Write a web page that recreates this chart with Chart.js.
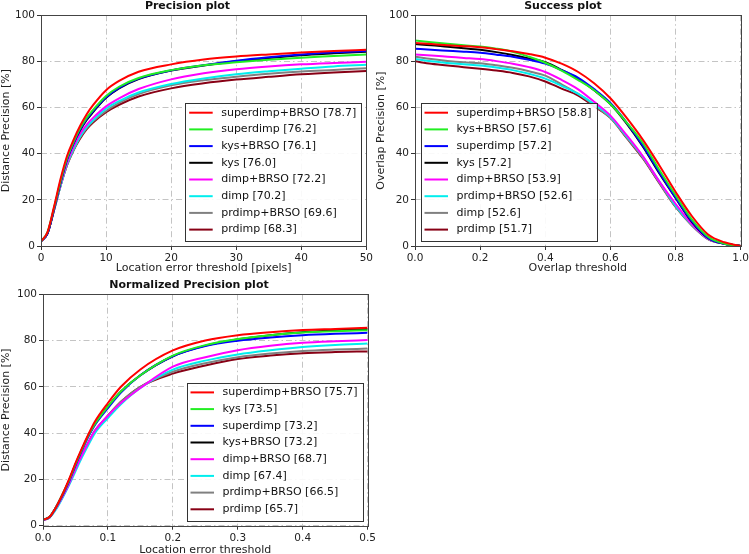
<!DOCTYPE html>
<html>
<head>
<meta charset="utf-8">
<script src="https://cdn.jsdelivr.net/npm/chart.js@4.4.0/dist/chart.umd.min.js"></script>
<style>
  html, body { margin: 0; padding: 0; background: #fff; overflow: hidden; }
  #wrap { position: relative; width: 749px; height: 554px; overflow: hidden; }
  canvas { position: absolute; }
</style>
</head>
<body>
<div id="wrap">
  <canvas id="precChart" width="375" height="277" style="left:0;top:0"></canvas>
  <canvas id="succChart" width="376" height="277" style="left:375px;top:0"></canvas>
  <canvas id="normChart" width="378" height="280" style="left:0;top:277px"></canvas>
</div>
<script>
// line colours, by rank in each legend
var lineColors = ["#ff0000", "#22ee22", "#0000ff", "#000000", "#ff00ff", "#00eeee", "#808080", "#880015"];

// Precision plot
var precThresholds = [0, 1, 2, 3, 4, 5, 6, 7, 8, 10, 12, 15, 20, 25, 30, 35, 40, 45, 50];
var precLabels = ["superdimp+BRSO [78.7]", "superdimp [76.2]", "kys+BRSO [76.1]", "kys [76.0]",
                  "dimp+BRSO [72.2]", "dimp [70.2]", "prdimp+BRSO [69.6]", "prdimp [68.3]"];
var precValues = [
  [2, 6, 17, 29, 39, 46, 52, 57, 61, 67.5, 71.5, 75.5, 78.7, 80.8, 82.1, 83, 83.8, 84.5, 85],
  [2, 6, 16.5, 28, 38, 45, 51, 55.5, 59, 65, 69, 72.8, 76.2, 78.3, 79.6, 80.7, 81.6, 82.3, 83],
  [2, 5.5, 16, 27.5, 37.5, 44.5, 50.5, 55, 58.5, 64.5, 68.5, 72.5, 76.1, 78.3, 80.3, 81.8, 83, 83.9, 84.5],
  [2, 5.5, 16, 27.5, 37.5, 44.5, 50, 54.5, 58, 64.2, 68.3, 72.3, 76.0, 78.2, 80, 81.5, 82.7, 83.5, 84.2],
  [2, 5.5, 15.5, 26.5, 36, 43, 48.5, 52.5, 55.5, 60.5, 64, 68, 72.2, 74.8, 76.6, 77.8, 78.7, 79.3, 79.8],
  [2, 5.5, 15.5, 26, 35.5, 42, 47.5, 51.5, 54.5, 59.5, 62.8, 66.5, 70.2, 72.6, 74.4, 75.7, 76.8, 77.8, 78.5],
  [2, 5.5, 15.5, 26, 35, 41.5, 47, 51, 54, 58.5, 62, 65.8, 69.6, 71.8, 73.3, 74.6, 75.6, 76.3, 77],
  [2, 5.5, 15.5, 26, 35, 41.5, 46.5, 50.5, 53.5, 58, 61.2, 64.8, 68.3, 70.5, 72.1, 73.3, 74.4, 75.2, 75.8]
];

// Success plot
var succThresholds = [0, 0.05, 0.1, 0.15, 0.2, 0.25, 0.3, 0.35, 0.4, 0.45, 0.5, 0.55, 0.6, 0.65, 0.7, 0.75, 0.8, 0.85, 0.9, 0.95, 1.0];
var succLabels = ["superdimp+BRSO [58.8]", "kys+BRSO [57.6]", "superdimp [57.2]", "kys [57.2]",
                  "dimp+BRSO [53.9]", "prdimp+BRSO [52.6]", "dimp [52.6]", "prdimp [51.7]"];
var succValues = [
  [88, 87.5, 87, 86.6, 86.1, 85.3, 84.4, 83.2, 81.6, 79, 75.5, 70.5, 64, 55.5, 46, 35, 23.5, 13, 5, 1.6, 0],
  [89, 88.3, 87.6, 87, 86.4, 85.5, 84.2, 82, 79.4, 76, 72, 67.5, 61.5, 53.5, 44.5, 33, 22, 11.5, 4, 1, 0],
  [85.5, 85, 84.6, 84.2, 83.7, 82.9, 82, 80.7, 79, 76.2, 73, 68, 62, 53.5, 43.5, 32, 21, 10.8, 3.5, 1, 0],
  [87.5, 87, 86.3, 85.7, 85, 84, 82.8, 81.3, 79.6, 76.3, 72.5, 67.5, 61.5, 53, 43, 31.5, 20.8, 10.5, 3.5, 1, 0],
  [83, 82.5, 82, 81.5, 81, 80.1, 79, 77.5, 75.4, 72, 68, 62.5, 56.5, 48, 38.8, 28, 18.3, 9.5, 3.2, 1, 0],
  [81, 80, 79.3, 78.7, 78.2, 77.3, 76.2, 74.6, 72.5, 69.4, 66, 61.5, 56, 47.5, 38.6, 28, 17.5, 9.3, 3.2, 1, 0],
  [82, 81, 80.2, 79.6, 79.2, 78.3, 77.2, 75.7, 73.8, 70, 66, 61, 55.5, 47, 38.2, 27.5, 17, 9, 3, 1, 0],
  [80, 79, 78.2, 77.5, 76.8, 76, 75, 73.5, 71.3, 68.2, 65.3, 60.5, 55.5, 46.8, 37.9, 27.3, 17, 9, 3, 1, 0]
];

// Normalized precision plot
var normThresholds = [0, 0.01, 0.02, 0.03, 0.04, 0.05, 0.06, 0.07, 0.08, 0.1, 0.12, 0.15, 0.2, 0.25, 0.3, 0.35, 0.4, 0.45, 0.5];
var normLabels = ["superdimp+BRSO [75.7]", "kys [73.5]", "superdimp [73.2]", "kys+BRSO [73.2]",
                  "dimp+BRSO [68.7]", "dimp [67.4]", "prdimp+BRSO [66.5]", "prdimp [65.7]"];
var normValues = [
  [2.5, 3.8, 8, 13.5, 20, 27, 33.5, 39.5, 45, 53, 60, 67.5, 75.7, 80, 82.3, 83.6, 84.5, 85, 85.5],
  [2.5, 3.8, 8, 13.5, 19.5, 26.5, 33, 39, 44, 51.5, 58, 65, 73.5, 78, 80.6, 82.3, 83.5, 84, 84.4],
  [2.5, 3.8, 8, 13, 19, 26, 32.5, 38.5, 43.5, 50.8, 57.5, 65, 73.2, 77.6, 79.9, 81.3, 82.3, 82.9, 83.3],
  [2.5, 3.8, 8, 13.5, 19.5, 26.5, 33, 39, 44, 51.5, 58, 65, 73.2, 77.8, 80.5, 82.3, 83.6, 84.4, 85],
  [2.5, 3.5, 7.5, 12.5, 18, 24.5, 30.5, 36, 41, 47.5, 53, 59.5, 68.7, 72.8, 75.8, 77.7, 79, 79.7, 80.2],
  [2.5, 3.5, 7, 12, 17.5, 23.5, 29.5, 35, 40, 46.5, 52.5, 59.5, 67.4, 71.3, 74, 75.8, 77.2, 78.1, 78.7],
  [2.5, 3.5, 7.5, 12.5, 18, 24.5, 30.5, 36, 41, 47.5, 53.5, 60, 66.5, 70.2, 72.8, 74.4, 75.5, 76.1, 76.5],
  [2.5, 3.5, 7.5, 12.5, 18, 24.5, 30.5, 36, 41, 47.5, 53.5, 60, 65.7, 69.2, 72, 73.5, 74.5, 75, 75.3]
];

var FONT = "'DejaVu Sans', sans-serif";

// box round the axes, like matplotlib spines
var framePlugin = {
  id: 'frame',
  afterDraw: function(chart) {
    var a = chart.chartArea, ctx = chart.ctx;
    ctx.save();
    ctx.strokeStyle = '#444';
    ctx.lineWidth = 1;
    ctx.strokeRect(Math.round(a.left) + 0.5, Math.round(a.top) + 0.5,
                   Math.round(a.right - a.left), Math.round(a.bottom - a.top));
    ctx.restore();
  }
};

// legend drawn inside the axes
var boxLegendPlugin = {
  id: 'boxLegend',
  afterDatasetsDraw: function(chart, args, opts) {
    var ctx = chart.ctx, a = chart.chartArea;
    var sets = chart.data.datasets;
    ctx.save();
    ctx.font = '11px ' + FONT;
    var maxW = 0;
    sets.forEach(function(ds) { maxW = Math.max(maxW, ctx.measureText(ds.label).width); });
    var rowH = 16.7;
    var w = 36 + maxW + 5;
    var h = 9.3 + rowH * (sets.length - 1) + 11.4;
    var x = opts.corner === 'left' ? a.left + 5.5 : a.right - 5 - w;
    var y = a.bottom - 5 - h;
    ctx.fillStyle = 'rgba(255,255,255,0.9)';
    ctx.fillRect(x, y, w, h);
    ctx.strokeStyle = '#333';
    ctx.lineWidth = 1;
    ctx.strokeRect(Math.round(x) + 0.5, Math.round(y) + 0.5, Math.round(w), Math.round(h));
    ctx.textBaseline = 'middle';
    ctx.fillStyle = '#111';
    sets.forEach(function(ds, i) {
      var cy = y + 9.3 + i * rowH;
      ctx.strokeStyle = ds.borderColor;
      ctx.lineWidth = 2;
      ctx.beginPath();
      ctx.moveTo(x + 4, cy);
      ctx.lineTo(x + 27.5, cy);
      ctx.stroke();
      ctx.fillText(ds.label, x + 36, cy);
    });
    ctx.restore();
  }
};

function makeChart(id, cfg) {
  var datasets = cfg.values.map(function(ys, i) {
    return {
      label: cfg.labels[i],
      data: cfg.xs.map(function(x, j) { return { x: x, y: ys[j] }; }),
      borderColor: lineColors[i],
      borderWidth: 2,
      pointRadius: 0,
      fill: false,
      cubicInterpolationMode: 'monotone'
    };
  });
  var tickFont = { family: FONT, size: 10.5 };
  var labelFont = { family: FONT, size: 11 };
  var gridOpts = { color: '#c4c4c4', lineWidth: 1, tickLength: 4, tickColor: '#333', tickBorderDash: [] };
  var borderOpts = { display: false, dash: [6, 3, 1.5, 3] };
  return new Chart(document.getElementById(id).getContext('2d'), {
    type: 'line',
    data: { datasets: datasets },
    options: {
      responsive: false,
      animation: false,
      layout: { padding: { left: 0, right: 0, top: cfg.titleTop, bottom: 0 } },
      plugins: {
        legend: { display: false },
        tooltip: { enabled: false },
        title: {
          display: true, text: cfg.title, color: '#111',
          font: { family: FONT, size: 11, weight: 'bold' },
          padding: { top: 0, bottom: 2 }
        },
        boxLegend: { corner: cfg.corner }
      },
      scales: {
        x: {
          type: 'linear', min: cfg.xMin, max: cfg.xMax,
          afterFit: function(s) { s.height = cfg.xHeight; },
          ticks: {
            stepSize: cfg.xStep, color: '#222', font: tickFont, padding: 2, maxRotation: 0,
            callback: cfg.xFormat
          },
          grid: gridOpts, border: borderOpts,
          title: { display: true, text: cfg.xTitle, color: '#222', font: labelFont, padding: { top: 0, bottom: cfg.xTitlePad } }
        },
        y: {
          min: 0, max: 100,
          afterFit: function(s) { s.width = cfg.yWidth; },
          ticks: { stepSize: 20, color: '#222', font: tickFont, padding: 2 },
          grid: gridOpts, border: borderOpts,
          title: { display: true, text: cfg.yTitle, color: '#222', font: labelFont, padding: 0 }
        }
      }
    },
    plugins: [framePlugin, boxLegendPlugin]
  });
}

makeChart('precChart', {
  xs: precThresholds, values: precValues, labels: precLabels,
  title: 'Precision plot', titleTop: 0, corner: 'right',
  xMin: 0, xMax: 50, xStep: 10, xFormat: function(v) { return v; },
  xTitle: 'Location error threshold [pixels]', yTitle: 'Distance Precision [%]',
  xHeight: 31, yWidth: 41, xTitlePad: 2
});

makeChart('succChart', {
  xs: succThresholds, values: succValues, labels: succLabels,
  title: 'Success plot', titleTop: 0, corner: 'left',
  xMin: 0, xMax: 1, xStep: 0.2, xFormat: function(v) { return v.toFixed(1); },
  xTitle: 'Overlap threshold', yTitle: 'Overlap Precision [%]',
  xHeight: 31, yWidth: 40, xTitlePad: 2
});

makeChart('normChart', {
  xs: normThresholds, values: normValues, labels: normLabels,
  title: 'Normalized Precision plot', titleTop: 2, corner: 'right',
  xMin: 0, xMax: 0.5, xStep: 0.1, xFormat: function(v) { return v.toFixed(1); },
  xTitle: 'Location error threshold', yTitle: 'Distance Precision [%]',
  xHeight: 31.3, yWidth: 43, xTitlePad: 0
});
</script>
</body>
</html>
